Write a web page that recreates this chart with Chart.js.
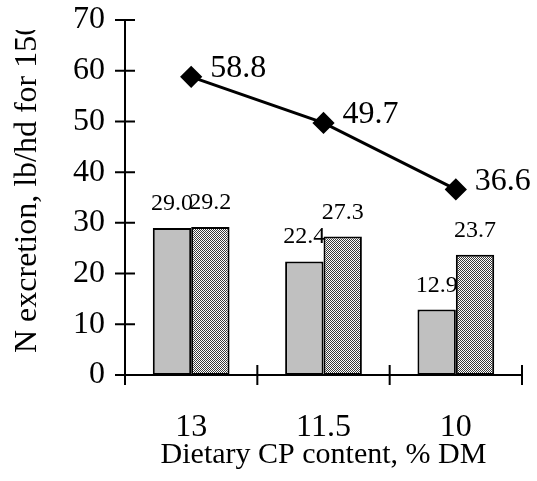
<!DOCTYPE html>
<html>
<head>
<meta charset="utf-8">
<script src="https://cdn.jsdelivr.net/npm/chart.js@4.4.0/dist/chart.umd.min.js"></script>
<style>
  html, body { margin: 0; padding: 0; background: #fff; }
</style>
</head>
<body>
<canvas id="nChart" width="537" height="481"></canvas>
<script>
// dietary CP levels and N excretion values
var cpLevels = ['13', '11.5', '10'];
var barSolid = [29.0, 22.4, 12.9];
var barDotted = [29.2, 27.3, 23.7];
var lineTotal = [58.8, 49.7, 36.6];
var yTicks = [0, 10, 20, 30, 40, 50, 60, 70];

var FONT = "'Liberation Serif', 'Times New Roman', serif";

// fine checker fill for the second bar series
function checkerFill() {
  var c = document.createElement('canvas');
  c.width = 2; c.height = 2;
  var g = c.getContext('2d');
  g.fillStyle = '#ffffff';
  g.fillRect(0, 0, 2, 2);
  g.fillStyle = '#3a3a3a';
  g.fillRect(0, 0, 1, 1);
  g.fillRect(1, 1, 1, 1);
  return g.createPattern(c, 'repeat');
}

var valueLabels = {
  id: 'valueLabels',
  // bar labels go under the bars so the neighbour bar can hide a bit of them
  beforeDatasetsDraw: function(chart) {
    var ctx = chart.ctx;
    ctx.save();
    ctx.fillStyle = '#000';
    ctx.font = '24px ' + FONT;
    ctx.textAlign = 'center';
    ctx.textBaseline = 'alphabetic';
    chart.data.datasets.forEach(function(ds, di) {
      if (ds.type !== 'bar') return;
      chart.getDatasetMeta(di).data.forEach(function(bar, i) {
        ctx.fillText(ds.data[i].toFixed(1), bar.x, bar.y - 18);
      });
    });
    ctx.restore();
  },
  afterDatasetsDraw: function(chart) {
    var ctx = chart.ctx;
    ctx.save();
    ctx.fillStyle = '#000';
    ctx.font = '32px ' + FONT;
    ctx.textAlign = 'left';
    ctx.textBaseline = 'middle';
    chart.data.datasets.forEach(function(ds, di) {
      if (ds.type !== 'line') return;
      chart.getDatasetMeta(di).data.forEach(function(pt, i) {
        ctx.fillText(ds.data[i].toFixed(1), pt.x + 19, pt.y - 8);
      });
    });
    ctx.restore();
  }
};

var axisMarks = {
  id: 'axisMarks',
  afterDraw: function(chart) {
    var ctx = chart.ctx;
    var x = chart.scales.x, y = chart.scales.y;
    ctx.save();
    ctx.strokeStyle = '#000';
    ctx.lineWidth = 2;
    ctx.beginPath();
    yTicks.forEach(function(v) {
      var py = y.getPixelForValue(v);
      ctx.moveTo(x.left - 10, py);
      ctx.lineTo(x.left + 10, py);
    });
    var step = x.width / cpLevels.length;
    for (var i = 0; i <= cpLevels.length; i++) {
      var px = x.left + i * step;
      ctx.moveTo(px, y.bottom - 10);
      ctx.lineTo(px, y.bottom + 10);
    }
    ctx.stroke();

    // y title, cut off at the top like the original
    ctx.beginPath();
    ctx.rect(0, 30, 80, 451);
    ctx.clip();
    ctx.translate(28, 353);
    ctx.rotate(-Math.PI / 2);
    ctx.font = '32px ' + FONT;
    ctx.fillStyle = '#000';
    ctx.textAlign = 'left';
    ctx.textBaseline = 'middle';
    ctx.fillText('N excretion, lb/hd for 150 days', 0, 0);
    ctx.restore();
  }
};

var ctx = document.getElementById('nChart').getContext('2d');
var chart = new Chart(ctx, {
  data: {
    labels: cpLevels,
    datasets: [
      {
        type: 'line',
        data: lineTotal,
        order: 0,
        borderColor: '#000',
        borderWidth: 3,
        pointStyle: 'rectRot',
        pointRadius: 9,
        pointBackgroundColor: '#000',
        pointBorderColor: '#000',
        fill: false
      },
      {
        type: 'bar',
        data: barSolid,
        order: 1,
        backgroundColor: '#c0c0c0',
        borderColor: '#000',
        borderWidth: 2,
        borderSkipped: false,
        categoryPercentage: 0.58,
        barPercentage: 1.0
      },
      {
        type: 'bar',
        data: barDotted,
        order: 2,
        backgroundColor: checkerFill(),
        borderColor: '#000',
        borderWidth: 2,
        borderSkipped: false,
        categoryPercentage: 0.58,
        barPercentage: 1.0
      }
    ]
  },
  options: {
    responsive: false,
    animation: false,
    layout: { padding: { top: 20, right: 15, left: 0, bottom: 0 } },
    plugins: {
      legend: { display: false },
      tooltip: { enabled: false }
    },
    scales: {
      x: {
        grid: { display: false, drawTicks: false },
        border: { display: true, color: '#000', width: 2 },
        ticks: { color: '#000', font: { family: FONT, size: 32 }, padding: 33, maxRotation: 0 },
        title: {
          display: true,
          text: 'Dietary CP content, % DM',
          color: '#000',
          font: { family: FONT, size: 30 },
          padding: { top: 0, bottom: 8 }
        },
        afterFit: function(s) { s.height = 106; s.paddingLeft = 0; s.paddingRight = 0; }
      },
      y: {
        min: 0,
        max: 70,
        grid: { display: false, drawTicks: false },
        border: { display: true, color: '#000', width: 2 },
        ticks: {
          stepSize: 10,
          color: '#000',
          font: { family: FONT, size: 32 },
          padding: 20
        },
        afterFit: function(s) { s.width = 125; s.paddingTop = 0; s.paddingBottom = 0; }
      }
    }
  },
  plugins: [valueLabels, axisMarks]
});
</script>
</body>
</html>
